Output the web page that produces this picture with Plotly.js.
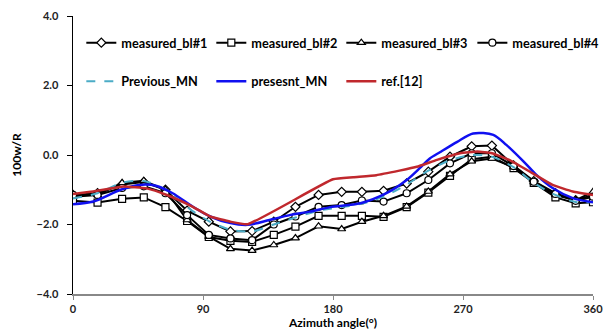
<!DOCTYPE html>
<html>
<head>
<meta charset="utf-8">
<script src="https://cdn.plot.ly/plotly-3.0.1.min.js"></script>
<style>html,body{margin:0;padding:0;background:#fff;}#chart{width:603px;height:331px;}</style>
</head>
<body>
<div id="chart"></div>
<script>
// Measured azimuth angles (deg)
var angles = [0, 17, 34, 49, 64, 79, 94, 109, 124, 139, 154, 170, 186, 200, 215, 231, 246, 261, 276, 290, 305, 319, 334, 348, 360];
var bl1 = [-1.15, -1.10, -0.85, -0.78, -1.00, -1.60, -1.92, -2.20, -2.19, -1.92, -1.49, -1.15, -1.06, -1.06, -1.03, -0.82, -0.48, -0.05, 0.25, 0.27, -0.30, -0.75, -1.10, -1.30, -1.15];
var bl2 = [-1.32, -1.37, -1.26, -1.22, -1.50, -1.90, -2.36, -2.47, -2.50, -2.30, -2.06, -1.75, -1.75, -1.75, -1.78, -1.50, -1.08, -0.60, -0.12, -0.05, -0.38, -0.80, -1.22, -1.39, -1.36];
var bl3 = [-1.20, -1.15, -0.80, -0.74, -1.00, -1.87, -2.35, -2.70, -2.75, -2.59, -2.39, -2.05, -2.13, -1.92, -1.75, -1.48, -1.05, -0.55, -0.18, -0.10, -0.35, -0.78, -1.15, -1.30, -1.06];
var bl4 = [-1.15, -1.15, -0.95, -0.90, -1.10, -1.73, -2.30, -2.40, -2.45, -2.00, -1.77, -1.49, -1.44, -1.31, -1.34, -1.10, -0.72, -0.24, 0.05, 0.05, -0.32, -0.77, -1.12, -1.32, -1.20];

// Previous_MN (dashed)
var prevX = [0, 17, 34, 49, 64, 79, 94, 109, 124, 139, 154, 170, 186, 200, 215, 231, 246, 261, 276, 290, 305, 319, 334, 348, 360];
var prevY = [-1.25, -1.10, -0.80, -0.75, -1.00, -1.50, -1.90, -2.15, -2.20, -2.00, -1.80, -1.60, -1.50, -1.40, -1.20, -0.85, -0.45, -0.15, 0.00, -0.05, -0.35, -0.80, -1.15, -1.35, -1.35];

// presesnt_MN (blue)
var presX = [0, 14, 33, 46, 58, 69, 83, 95, 109, 121, 136, 150, 164, 178, 199, 217, 231, 240, 247, 254, 266, 277, 291, 300, 312, 321, 332, 346, 360];
var presY = [-1.42, -1.34, -1.00, -0.86, -0.89, -1.10, -1.49, -1.77, -1.96, -2.01, -1.87, -1.73, -1.63, -1.50, -1.39, -1.10, -0.72, -0.38, -0.10, 0.08, 0.38, 0.62, 0.58, 0.29, -0.19, -0.58, -0.95, -1.24, -1.36];

// ref.[12] (red)
var refX = [0, 14, 35, 51, 65, 83, 95, 109, 121, 180, 194, 210, 226, 238, 252, 268, 280, 290, 302, 318, 332, 346, 360];
var refY = [-1.12, -1.05, -0.91, -0.96, -1.15, -1.49, -1.77, -1.92, -1.99, -0.70, -0.64, -0.58, -0.45, -0.34, -0.14, 0.05, 0.10, 0.05, -0.14, -0.52, -0.86, -1.05, -1.15];

var names = ['measured_bl#1', 'measured_bl#2', 'measured_bl#3', 'measured_bl#4'];
var symbols = ['diamond', 'square', 'triangle-up', 'circle'];
var series = [bl1, bl2, bl3, bl4];
var legendIds = ['legend', 'legend', 'legend', 'legend3'];

var traces = [];
for (var i = 0; i < 4; i++) {
  traces.push({
    x: angles, y: series[i], name: names[i], type: 'scatter', mode: 'lines+markers',
    line: {color: '#000000', width: 2},
    marker: {symbol: symbols[i], size: 7, color: '#ffffff', line: {color: '#000000', width: 1.2}},
    legend: legendIds[i]
  });
}
traces.push({x: prevX, y: prevY, name: 'Previous_MN', type: 'scatter', mode: 'lines',
  line: {color: '#4BACC6', width: 2, dash: 'dash', shape: 'spline', smoothing: 0.8}, legend: 'legend2'});
traces.push({x: presX, y: presY, name: 'presesnt_MN', type: 'scatter', mode: 'lines',
  line: {color: '#1010F0', width: 2.5, shape: 'spline', smoothing: 0.8}, legend: 'legend2'});
traces.push({x: refX, y: refY, name: 'ref.[12]', type: 'scatter', mode: 'lines',
  line: {color: '#C0282D', width: 2.5, shape: 'spline', smoothing: 0.4}, legend: 'legend2'});

var fnt = {family: 'Lato, "Open Sans", sans-serif', size: 12.7, color: '#000', weight: 'bold'};

function leg(x, y) {
  return {
    orientation: 'h', x: x, y: y, xanchor: 'left', yanchor: 'top',
    entrywidth: 85, entrywidthmode: 'pixels', bgcolor: 'rgba(0,0,0,0)',
    font: fnt, traceorder: 'normal'
  };
}

var layout = {
  width: 603, height: 331,
  margin: {l: 73, r: 10, t: 16, b: 37, autoexpand: false},
  paper_bgcolor: '#fff', plot_bgcolor: '#fff',
  font: fnt,
  xaxis: {
    range: [0, 360], tickvals: [0, 90, 180, 270, 360], ticktext: ['0', '90', '180', '270', '360'],
    showgrid: false, zeroline: false, showline: true, linecolor: '#888', linewidth: 1.5,
    ticks: 'outside', ticklen: 4, tickcolor: '#888', ticklabeloverflow: 'allow',
    tickfont: {family: fnt.family, size: 11, color: '#222', weight: 'bold'},
    title: {text: 'Azimuth angle(°)', font: {family: fnt.family, size: 12, color: '#000', weight: 'bold'}, standoff: 0}
  },
  yaxis: {
    range: [-4, 4], tickvals: [-4, -2, 0, 2, 4], tickformat: '.1f',
    showgrid: false, zeroline: false, showline: true, linecolor: '#000', linewidth: 1.5,
    ticks: 'outside', ticklen: 5, tickcolor: '#000', ticklabelstandoff: 6,
    tickfont: {family: fnt.family, size: 11, color: '#222', weight: 'bold'},
    title: {text: '100w/R', font: {family: fnt.family, size: 12, color: '#000', weight: 'bold'}, standoff: 12}
  },
  legend: leg(0.016, 0.957),
  legend3: leg(0.768, 0.957),
  legend2: leg(0.016, 0.818),
  showlegend: true
};

Plotly.newPlot('chart', traces, layout, {displayModeBar: false, staticPlot: true});
</script>
</body>
</html>
